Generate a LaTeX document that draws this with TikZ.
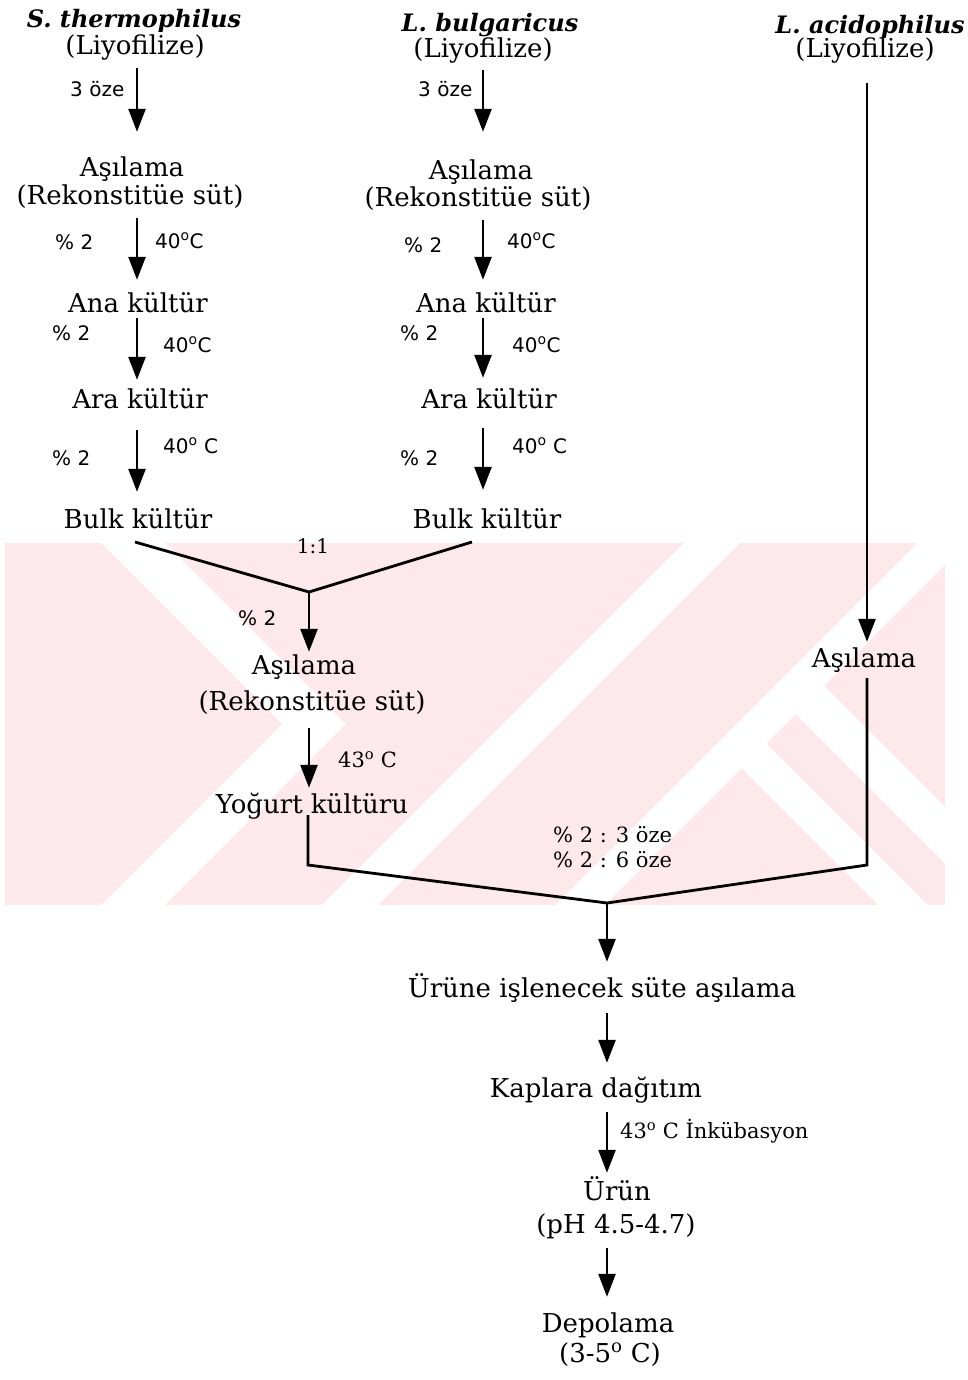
\documentclass[tikz,border=0pt]{standalone}
\usepackage{fontspec}
\setmainfont{DejaVu Serif}
\setsansfont{DejaVu Sans}
\usetikzlibrary{arrows.meta}
\definecolor{wmpink}{RGB}{253,232,236}
\tikzset{
  main/.style={inner sep=0pt, anchor=base, text height=20pt, text depth=6pt, font=\fontsize{26}{30}\selectfont},
  species/.style={inner sep=0pt, anchor=base, font=\fontsize{24}{28}\selectfont\bfseries\itshape},
  lab/.style={inner sep=0pt, anchor=base west, font=\sffamily\fontsize{20}{24}\selectfont},
  slab/.style={inner sep=0pt, anchor=base west, font=\fontsize{21}{25}\selectfont},
  arr/.style={line width=2.6pt, -{Triangle[width=17pt,length=23pt]}},
  ln/.style={line width=2.8pt, line join=miter},
  wmgap/.style={white, line width=#1, line join=miter},
}
\begin{document}
\begin{tikzpicture}[x=1pt,y=-1pt]
\useasboundingbox (0,0) rectangle (967,1380);
% faint watermark
\begin{scope}
  \clip (5,543) rectangle (945,905);
  \fill[wmpink] (5,543) rectangle (945,905);
  \draw[wmgap=45pt] (110,520) -- (314,724) -- (110,928);
  \draw[wmgap=40pt] (330,925) -- (730,525);
  \draw[wmgap=35pt] (560,925) -- (960,525);
  \draw[wmgap=35pt] (735,737) -- (925,927);
  \draw[wmgap=40pt] (800,690) -- (1000,890);
\end{scope}
% column axes
\coordinate (c1) at (137,0);
\coordinate (c2) at (483,0);
\coordinate (c3) at (867,0);
\coordinate (cm) at (309,0);
\coordinate (cf) at (607,0);
% column 1
\node[species] (sp1) at (134,28) {S. thermophilus};
\node[main] (ly1) at (135,55) {(Liyofilize)};
\node[main] (as1a) at (132,177) {Aşılama};
\node[main] (as1b) at (130,205) {(Rekonstitüe süt)};
\node[main] (an1) at (138,312) {Ana kültür};
\node[main] (ar1) at (140,408) {Ara kültür};
\node[main] (bk1) at (138,528) {Bulk kültür};
\node[lab] (l1a) at (70,97) {3 öze};
\node[lab] (l1b) at (55,250) {\% 2};
\node[lab] (t1b) at (155,248) {40\textsuperscript{o}C};
\node[lab] (l1c) at (52,340) {\% 2};
\node[lab] (t1c) at (163,352) {40\textsuperscript{o}C};
\node[lab] (l1d) at (52,465) {\% 2};
\node[lab] (t1d) at (163,453) {40\textsuperscript{o} C};
% column 2
\node[species] (sp2) at (490,32) {L. bulgaricus};
\node[main] (ly2) at (483,58) {(Liyofilize)};
\node[main] (as2a) at (481,180) {Aşılama};
\node[main] (as2b) at (478,207) {(Rekonstitüe süt)};
\node[main] (an2) at (486,312) {Ana kültür};
\node[main] (ar2) at (489,408) {Ara kültür};
\node[main] (bk2) at (487,528) {Bulk kültür};
\node[lab] (l2a) at (418,97) {3 öze};
\node[lab] (l2b) at (404,252) {\% 2};
\node[lab] (t2b) at (507,248) {40\textsuperscript{o}C};
\node[lab] (l2c) at (400,340) {\% 2};
\node[lab] (t2c) at (512,352) {40\textsuperscript{o}C};
\node[lab] (l2d) at (400,465) {\% 2};
\node[lab] (t2d) at (512,453) {40\textsuperscript{o} C};
% column 3
\node[species] (sp3) at (870,34) {L. acidophilus};
\node[main] (ly3) at (865,58) {(Liyofilize)};
\node[main] (as4) at (864,667) {Aşılama};
% middle
\node[slab, anchor=base, font=\fontsize{20}{24}\selectfont] (r11) at (313,553) {1:1};
\node[lab] (l3a) at (238,625) {\% 2};
\node[main] (as3a) at (304,674) {Aşılama};
\node[main] (as3b) at (312,710) {(Rekonstitüe süt)};
\node[slab] (t3a) at (338,767) {43\textsuperscript{o} C};
\node[main] (yk) at (312,813) {Yoğurt kültüru};
\node[slab] (mx1) at (553,842) {\% 2 : 3 öze};
\node[slab] (mx2) at (553,867) {\% 2 : 6 öze};
% final column
\node[main] (ur) at (602,997) {Ürüne işlenecek süte aşılama};
\node[main] (kp) at (596,1097) {Kaplara dağıtım};
\node[slab] (inc) at (620,1138) {43\textsuperscript{o} C İnkübasyon};
\node[main] (un) at (617,1200) {Ürün};
\node[main] (ph) at (616,1233) {(pH 4.5-4.7)};
\node[main] (dp) at (608,1332) {Depolama};
\node[main] (tc) at (610,1362) {(3-5\textsuperscript{o} C)};
% junction points
\coordinate (m1) at (135,542);
\coordinate (m2) at (472,542);
\coordinate (j1) at (309,592);
\coordinate (k1) at (308,865);
\coordinate (k2) at (867,865);
\coordinate (j2) at (607,903);
% column 1 arrows
\draw[arr, shorten <=7pt, shorten >=25pt] (ly1.south -| c1) -- (as1a.north -| c1);
\draw[arr, shorten <=7pt, shorten >=12pt] (as1b.south -| c1) -- (an1.north -| c1);
\draw[arr, shorten <=0pt, shorten >=8pt] (an1.south -| c1) -- (ar1.north -| c1);
\draw[arr, shorten <=16pt, shorten >=16pt] (ar1.south -| c1) -- (bk1.north -| c1);
% column 2 arrows
\draw[arr, shorten <=6pt, shorten >=28pt] (ly2.south -| c2) -- (as2a.north -| c2);
\draw[arr, shorten <=7pt, shorten >=12pt] (as2b.south -| c2) -- (an2.north -| c2);
\draw[arr, shorten <=0pt, shorten >=10pt] (an2.south -| c2) -- (ar2.north -| c2);
\draw[arr, shorten <=14pt, shorten >=18pt] (ar2.south -| c2) -- (bk2.north -| c2);
% column 3
\draw[arr, shorten <=19pt, shorten >=5pt] (ly3.south -| c3) -- (as4.north -| c3);
% merging
\draw[ln] (m1) -- (j1) -- (m2);
\draw[arr, shorten >=2pt] (j1) -- (as3a.north -| j1);
\draw[arr, shorten <=12pt, shorten >=5pt] (as3b.south -| cm) -- (yk.north -| cm);
\draw[ln, shorten <=-4pt] (yk.south -| k1) -- (k1) -- (j2) -- (k2) -- ([yshift=-5pt]as4.south -| k2);
% final column arrows
\draw[arr, shorten >=15pt] (j2) -- (ur.north -| cf);
\draw[arr, shorten <=10pt, shorten >=14pt] (ur.south -| cf) -- (kp.north -| cf);
\draw[arr, shorten <=9pt, shorten >=7pt] (kp.south -| cf) -- (un.north -| cf);
\draw[arr, shorten <=9pt, shorten >=15pt] (ph.south -| cf) -- (dp.north -| cf);
\end{tikzpicture}
\end{document}
